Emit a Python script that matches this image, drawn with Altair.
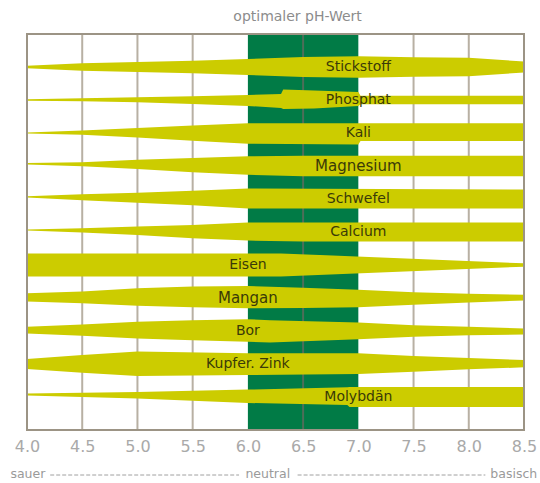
import altair as alt
import pandas as pd

YELLOW = "#cccc00"
GREEN = "#017b46"
GRID = "#b8b0a3"
BORDER = "#9c9485"

nutrients = ["Stickstoff", "Phosphat", "Kali", "Magnesium", "Schwefel", "Calcium",
             "Eisen", "Mangan", "Bor", "Kupfer. Zink", "Molybdän"]
label_ph = [7.0, 7.0, 7.0, 7.0, 7.0, 7.0, 6.0, 6.0, 6.0, 6.0, 7.0]
label_size = [14, 14, 14, 15, 14, 14, 14, 15, 14, 14, 14]

# availability profiles: pH points, upper spread, lower spread
stick_ph = [4.0, 4.5, 5.0, 5.5, 6.0, 6.5, 7.0, 7.5, 8.0, 8.5]
stick_up = [1.2, 3.7, 5.0, 6.3, 8.0, 10.0, 10.8, 9.7, 9.3, 5.5]
stick_lo = [1.2, 3.7, 5.0, 6.3, 8.0, 10.0, 10.8, 9.7, 9.3, 5.5]

phos_ph = [4.0, 4.5, 5.0, 5.5, 6.0, 6.3, 6.32, 6.6, 7.0, 7.02, 8.5]
phos_up = [0.8, 1.7, 2.7, 3.7, 5.0, 6.0, 10.5, 9.5, 8.0, 4.3, 4.3]
phos_lo = [0.8, 1.3, 2.3, 4.0, 6.0, 8.0, 9.0, 8.5, 6.0, 4.3, 4.3]

kali_ph = [4.0, 4.5, 5.0, 5.5, 6.0, 7.0, 7.02, 8.5]
kali_up = [0.5, 2.5, 5.0, 7.5, 9.8, 9.8, 9.8, 9.8]
kali_lo = [0.5, 1.8, 4.5, 7.8, 10.8, 11.5, 8.0, 8.0]

magn_ph = [4.0, 4.5, 5.0, 5.5, 6.0, 6.5, 8.5]
magn_up = [3.0, 3.7, 6.3, 8.0, 9.7, 10.3, 10.3]
magn_lo = [-1.5, 0.3, 3.0, 6.3, 8.7, 10.3, 10.3]

schw_ph = [4.0, 4.5, 5.0, 5.5, 6.0, 8.5]
schw_up = [2.7, 4.8, 6.2, 8.2, 10.5, 9.5]
schw_lo = [-1.5, 1.2, 3.8, 6.2, 9.5, 9.5]

calc_ph = [4.0, 4.5, 5.0, 5.5, 6.0, 6.5, 8.5]
calc_up = [2.5, 3.7, 5.4, 7.0, 9.4, 9.4, 9.4]
calc_lo = [-1.5, 0.6, 3.0, 6.3, 8.6, 9.6, 9.6]

eisen_ph = [4.0, 6.3, 8.5]
eisen_up = [11.6, 11.6, 1.7]
eisen_lo = [11.6, 11.6, 1.7]

mang_ph = [4.0, 4.5, 5.0, 5.5, 6.0, 6.5, 7.0, 7.5, 8.0, 8.5]
mang_up = [4.8, 6.5, 9.8, 11.5, 12.0, 10.2, 8.2, 5.8, 4.2, 3.2]
mang_lo = [3.5, 5.2, 7.8, 9.2, 10.2, 10.0, 9.2, 6.8, 4.5, 2.5]

bor_ph = [4.0, 4.5, 5.0, 5.5, 6.0, 6.2, 7.0, 7.5, 8.0, 8.5]
bor_up = [4.2, 6.5, 9.2, 10.8, 11.8, 10.8, 8.5, 5.8, 4.2, 2.5]
bor_lo = [2.5, 4.8, 7.5, 9.2, 10.8, 11.5, 8.2, 5.8, 4.2, 3.5]

kupf_ph = [4.0, 4.5, 5.0, 6.0, 7.0, 7.5, 8.0, 8.5]
kupf_up = [5.0, 9.0, 12.5, 10.7, 10.7, 8.0, 6.0, 4.0]
kupf_lo = [5.0, 8.7, 12.0, 11.0, 10.0, 7.7, 5.3, 3.3]

moly_ph = [4.0, 5.0, 6.0, 6.9, 6.92, 8.5]
moly_up = [3.4, 5.0, 7.4, 9.8, 10.0, 10.0]
moly_lo = [-1.5, 1.6, 6.0, 8.0, 10.0, 10.0]

profiles = [
    (stick_ph, stick_up, stick_lo), (phos_ph, phos_up, phos_lo),
    (kali_ph, kali_up, kali_lo), (magn_ph, magn_up, magn_lo),
    (schw_ph, schw_up, schw_lo), (calc_ph, calc_up, calc_lo),
    (eisen_ph, eisen_up, eisen_lo), (mang_ph, mang_up, mang_lo),
    (bor_ph, bor_up, bor_lo), (kupf_ph, kupf_up, kupf_lo),
    (moly_ph, moly_up, moly_lo),
]

tick_values = [4.0, 4.5, 5.0, 5.5, 6.0, 6.5, 7.0, 7.5, 8.0, 8.5]
grid_values = [4.5, 5.0, 5.5, 6.5, 7.5, 8.0]
optimal_range = (6.0, 7.0)

SPREAD = 33.0  # spread units per row

rows = []
for i, (name, prof) in enumerate(zip(nutrients, profiles), start=1):
    for p, u, l in zip(*prof):
        rows.append({"n": name, "ph": p, "top": i - u / SPREAD, "bot": i + l / SPREAD})
df = pd.DataFrame(rows)

labels = pd.DataFrame({
    "n": nutrients,
    "ph": label_ph,
    "row": list(range(1, len(nutrients) + 1)),
    "fs": label_size,
})

xs = alt.Scale(domain=[4.0, 8.5], nice=False, zero=False)
ys = alt.Scale(domain=[0, 12], reverse=True, nice=False, zero=False)
xaxis = alt.Axis(values=tick_values, format=".1f", grid=False, ticks=False, domain=False,
                 labelFontSize=16, labelColor="#a9a9a9", labelPadding=8, title=None,
                 labelFont="DejaVu Sans", labelFlush=False)


def X(field):
    return alt.X(field, type="quantitative", scale=xs, axis=xaxis)


band_df = pd.DataFrame({"x": [optimal_range[0]], "x2": [optimal_range[1]], "y": [0], "y2": [12]})
band = alt.Chart(band_df).mark_rect(color=GREEN).encode(
    x=X("x"), x2="x2", y=alt.Y("y:Q", scale=ys, axis=None), y2="y2:Q"
)

grid = alt.Chart(pd.DataFrame({"x": grid_values})).mark_rule(strokeWidth=2).encode(
    x=X("x"),
    color=alt.condition(alt.datum.x == 6.5, alt.value("#4e6e59"), alt.value(GRID)),
)

areas = alt.Chart(df).mark_area(color=YELLOW, interpolate="linear").encode(
    x=X("ph"), y=alt.Y("top:Q", scale=ys, axis=None), y2="bot:Q", detail="n:N"
)

texts = alt.Chart(labels).mark_text(color="#3a3a08", font="DejaVu Sans", baseline="middle").encode(
    x=X("ph"), y=alt.Y("row:Q", scale=ys, axis=None), text="n:N",
    size=alt.Size("fs:Q", scale=None, legend=None),
)

border = alt.Chart(band_df.assign(x=4.0, x2=8.5)).mark_rect(
    filled=False, color=BORDER, strokeWidth=2
).encode(x=X("x"), x2="x2", y=alt.Y("y:Q", scale=ys, axis=None), y2="y2:Q")

title = alt.Chart(pd.DataFrame({"ph": [6.45], "t": ["optimaler pH-Wert"]})).mark_text(
    color="#8c8c8c", fontSize=14, font="DejaVu Sans", baseline="middle"
).encode(x=X("ph"), y=alt.value(-17), text="t:N")

scale_words = pd.DataFrame({
    "ph": [3.85, 6.18, 8.62],
    "t": ["sauer", "neutral", "basisch"],
    "a": ["left", "center", "right"],
})
words = []
for a in ["left", "center", "right"]:
    words.append(
        alt.Chart(scale_words[scale_words.a == a]).mark_text(
            color="#9a9a9a", fontSize=12.5, font="DejaVu Sans", baseline="middle", align=a
        ).encode(x=X("ph"), y=alt.value(440), text="t:N")
    )

dash_df = pd.DataFrame({"x": [4.21, 6.45], "x2": [5.92, 8.15]})
dashes = alt.Chart(dash_df).mark_rule(color="#a0a0a0", strokeDash=[4, 2], strokeWidth=1).encode(
    x=X("x"), x2="x2", y=alt.value(441)
)

chart = alt.layer(band, grid, areas, texts, border, title, dashes, *words).properties(
    width=497, height=396,
    autosize=alt.AutoSizeParams(type="none"),
    padding={"left": 27, "top": 34, "right": 16, "bottom": 53},
    background="white",
).configure_view(strokeWidth=0)

chart.save("out.html", embed_options={"renderer": "svg", "actions": False})
